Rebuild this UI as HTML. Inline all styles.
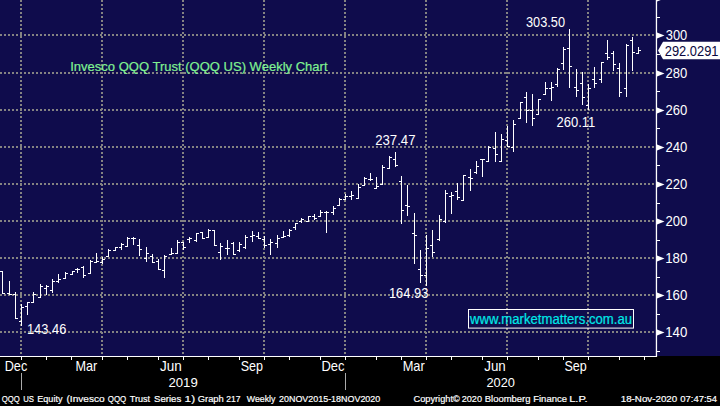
<!DOCTYPE html>
<html lang="en">
<head>
<meta charset="utf-8">
<title>Invesco QQQ Trust (QQQ US) Weekly Chart</title>
<style>
html,body{margin:0;padding:0;background:#000;overflow:hidden}
body{width:720px;height:406px;font-family:"Liberation Sans",sans-serif}
svg{display:block;position:absolute;left:0;top:0}
text{font-family:"Liberation Sans",sans-serif;fill:#fff}
.ax{font-size:14.1px}
.mo{font-size:14.2px}
.ft{font-size:9.8px;stroke:#fff;stroke-width:.2px}
.lb{font-size:14.05px}
.ti{font-size:13.3px;fill:#80f292;stroke:#80f292;stroke-width:.2px}
.wm{font-size:14px;fill:#00e8e8;stroke:#00e8e8;stroke-width:.2px}
.pv{font-size:14px;fill:#0a0840}
</style>
</head>
<body>
<svg width="720" height="406" viewBox="0 0 720 406">
<defs>
<pattern id="hd" x="0" y="0" width="4" height="2" patternUnits="userSpaceOnUse"><rect x="0" y="0" width="2" height="2" fill="#848382"/></pattern>
<pattern id="vd" x="0" y="0" width="2" height="4" patternUnits="userSpaceOnUse"><rect x="0" y="0" width="2" height="2" fill="#848382"/></pattern>
</defs>
<rect x="0" y="0" width="720" height="406" fill="#000"/>
<rect x="0" y="0" width="720" height="356" fill="#0f0c4c"/>
<g shape-rendering="crispEdges">
<rect x="0" y="34" width="656" height="2" fill="url(#hd)"/>
<rect x="0" y="72" width="656" height="2" fill="url(#hd)"/>
<rect x="0" y="109" width="656" height="2" fill="url(#hd)"/>
<rect x="0" y="146" width="656" height="2" fill="url(#hd)"/>
<rect x="0" y="183" width="656" height="2" fill="url(#hd)"/>
<rect x="0" y="220" width="656" height="2" fill="url(#hd)"/>
<rect x="0" y="257" width="656" height="2" fill="url(#hd)"/>
<rect x="0" y="294" width="656" height="2" fill="url(#hd)"/>
<rect x="0" y="331" width="656" height="2" fill="url(#hd)"/>
<rect x="20" y="0" width="2" height="356" fill="url(#vd)"/>
<rect x="101" y="0" width="2" height="356" fill="url(#vd)"/>
<rect x="182" y="0" width="2" height="356" fill="url(#vd)"/>
<rect x="263" y="0" width="2" height="356" fill="url(#vd)"/>
<rect x="344" y="0" width="2" height="356" fill="url(#vd)"/>
<rect x="425" y="0" width="2" height="356" fill="url(#vd)"/>
<rect x="506" y="0" width="2" height="356" fill="url(#vd)"/>
<rect x="587" y="0" width="2" height="356" fill="url(#vd)"/>
<path d="M2 271h1v23h-1zM0 271h2v1h-2zM3 293h2v1h-2zM9 281h1v14h-1zM7 293h2v1h-2zM10 294h2v1h-2zM15 292h1v27h-1zM13 294h2v1h-2zM16 318h2v1h-2zM21 304h1v22h-1zM19 321h2v1h-2zM22 307h2v1h-2zM27 302h1v13h-1zM25 306h2v1h-2zM28 302h2v1h-2zM33 292h1v11h-1zM31 302h2v1h-2zM34 294h2v1h-2zM40 284h1v14h-1zM38 297h2v1h-2zM41 286h2v1h-2zM46 285h1v10h-1zM44 288h2v1h-2zM47 286h2v1h-2zM52 279h1v14h-1zM50 290h2v1h-2zM53 281h2v1h-2zM58 274h1v9h-1zM56 281h2v1h-2zM59 279h2v1h-2zM65 272h1v7h-1zM63 278h2v1h-2zM66 273h2v1h-2zM72 271h1v4h-1zM70 274h2v1h-2zM73 271h2v1h-2zM77 268h1v5h-1zM75 269h2v1h-2zM78 269h2v1h-2zM83 266h1v12h-1zM81 267h2v1h-2zM84 275h2v1h-2zM90 260h1v14h-1zM88 273h2v1h-2zM91 261h2v1h-2zM96 253h1v10h-1zM94 262h2v1h-2zM97 261h2v1h-2zM102 257h1v7h-1zM100 262h2v1h-2zM103 259h2v1h-2zM108 249h1v8h-1zM106 256h2v1h-2zM109 250h2v1h-2zM115 247h1v4h-1zM113 250h2v1h-2zM116 247h2v1h-2zM121 243h1v7h-1zM119 247h2v1h-2zM122 244h2v1h-2zM127 237h1v10h-1zM125 246h2v1h-2zM128 238h2v1h-2zM133 237h1v8h-1zM131 238h2v1h-2zM134 238h2v1h-2zM139 239h1v17h-1zM137 245h2v1h-2zM140 249h2v1h-2zM146 247h1v15h-1zM144 258h2v1h-2zM147 253h2v1h-2zM152 254h1v9h-1zM150 256h2v1h-2zM153 262h2v1h-2zM158 259h1v11h-1zM156 261h2v1h-2zM159 269h2v1h-2zM164 255h1v23h-1zM162 270h2v1h-2zM165 256h2v1h-2zM171 248h1v7h-1zM169 254h2v1h-2zM172 253h2v1h-2zM177 240h1v14h-1zM175 253h2v1h-2zM178 242h2v1h-2zM183 242h1v8h-1zM181 242h2v1h-2zM184 247h2v1h-2zM189 237h1v6h-1zM187 239h2v1h-2zM190 238h2v1h-2zM196 233h1v9h-1zM194 240h2v1h-2zM197 233h2v1h-2zM202 232h1v7h-1zM200 232h2v1h-2zM203 238h2v1h-2zM208 229h1v9h-1zM206 237h2v1h-2zM209 230h2v1h-2zM214 230h1v16h-1zM212 230h2v1h-2zM215 245h2v1h-2zM220 243h1v17h-1zM218 252h2v1h-2zM221 246h2v1h-2zM227 240h1v15h-1zM225 248h2v1h-2zM228 248h2v1h-2zM233 242h1v13h-1zM231 243h2v1h-2zM234 254h2v1h-2zM239 242h1v10h-1zM237 250h2v1h-2zM240 244h2v1h-2zM245 235h1v14h-1zM243 247h2v1h-2zM246 237h2v1h-2zM252 231h1v11h-1zM250 236h2v1h-2zM253 235h2v1h-2zM258 232h1v7h-1zM256 236h2v1h-2zM259 238h2v1h-2zM264 236h1v12h-1zM262 239h2v1h-2zM265 245h2v1h-2zM270 239h1v16h-1zM268 244h2v1h-2zM271 242h2v1h-2zM277 235h1v13h-1zM275 243h2v1h-2zM278 238h2v1h-2zM283 231h1v7h-1zM281 237h2v1h-2zM284 236h2v1h-2zM289 229h1v8h-1zM287 235h2v1h-2zM290 230h2v1h-2zM295 223h1v7h-1zM293 227h2v1h-2zM296 223h2v1h-2zM301 218h1v5h-1zM299 221h2v1h-2zM302 219h2v1h-2zM308 216h1v6h-1zM306 221h2v1h-2zM309 216h2v1h-2zM314 214h1v6h-1zM312 216h2v1h-2zM315 218h2v1h-2zM320 210h1v7h-1zM318 216h2v1h-2zM321 212h2v1h-2zM326 211h1v22h-1zM324 212h2v1h-2zM327 212h2v1h-2zM333 206h1v9h-1zM331 212h2v1h-2zM334 208h2v1h-2zM339 198h1v8h-1zM337 205h2v1h-2zM340 199h2v1h-2zM345 194h1v6h-1zM343 199h2v1h-2zM346 196h2v1h-2zM351 191h1v9h-1zM349 196h2v1h-2zM352 195h2v1h-2zM358 184h1v15h-1zM356 198h2v1h-2zM359 187h2v1h-2zM364 177h1v9h-1zM362 185h2v1h-2zM365 178h2v1h-2zM370 173h1v8h-1zM368 179h2v1h-2zM371 179h2v1h-2zM376 177h1v12h-1zM374 188h2v1h-2zM377 186h2v1h-2zM382 165h1v20h-1zM380 184h2v1h-2zM383 167h2v1h-2zM389 156h1v13h-1zM387 168h2v1h-2zM390 157h2v1h-2zM395 152h1v15h-1zM393 159h2v1h-2zM396 165h2v1h-2zM401 176h1v48h-1zM399 181h2v1h-2zM402 210h2v1h-2zM407 185h1v31h-1zM405 205h2v1h-2zM408 206h2v1h-2zM414 213h1v51h-1zM412 233h2v1h-2zM415 235h2v1h-2zM420 250h1v33h-1zM418 269h2v1h-2zM421 275h2v1h-2zM426 235h1v51h-1zM424 275h2v1h-2zM427 248h2v1h-2zM432 230h1v27h-1zM430 245h2v1h-2zM433 252h2v1h-2zM439 215h1v26h-1zM437 239h2v1h-2zM440 219h2v1h-2zM445 190h1v33h-1zM443 221h2v1h-2zM446 193h2v1h-2zM451 192h1v22h-1zM449 196h2v1h-2zM452 195h2v1h-2zM457 183h1v17h-1zM455 191h2v1h-2zM458 197h2v1h-2zM463 175h1v26h-1zM461 200h2v1h-2zM464 175h2v1h-2zM470 169h1v22h-1zM468 177h2v1h-2zM471 178h2v1h-2zM476 161h1v13h-1zM474 172h2v1h-2zM477 166h2v1h-2zM482 159h1v18h-1zM480 159h2v1h-2zM483 159h2v1h-2zM488 146h1v16h-1zM486 161h2v1h-2zM489 147h2v1h-2zM495 132h1v30h-1zM493 148h2v1h-2zM496 154h2v1h-2zM501 134h1v28h-1zM499 161h2v1h-2zM502 139h2v1h-2zM507 126h1v21h-1zM505 140h2v1h-2zM508 146h2v1h-2zM513 120h1v32h-1zM511 147h2v1h-2zM514 124h2v1h-2zM520 102h1v17h-1zM518 118h2v1h-2zM521 102h2v1h-2zM526 92h1v31h-1zM524 97h2v1h-2zM527 110h2v1h-2zM532 94h1v32h-1zM530 110h2v1h-2zM533 118h2v1h-2zM538 99h1v16h-1zM536 114h2v1h-2zM539 99h2v1h-2zM545 82h1v13h-1zM543 94h2v1h-2zM546 88h2v1h-2zM551 82h1v19h-1zM549 88h2v1h-2zM552 87h2v1h-2zM557 68h1v19h-1zM555 84h2v1h-2zM558 69h2v1h-2zM563 47h1v23h-1zM561 63h2v1h-2zM564 49h2v1h-2zM569 29h1v59h-1zM567 48h2v1h-2zM570 66h2v1h-2zM576 69h1v28h-1zM574 87h2v1h-2zM577 90h2v1h-2zM582 72h1v33h-1zM580 83h2v1h-2zM583 97h2v1h-2zM588 84h1v26h-1zM586 105h2v1h-2zM589 88h2v1h-2zM594 67h1v21h-1zM592 79h2v1h-2zM595 83h2v1h-2zM601 62h1v21h-1zM599 79h2v1h-2zM602 62h2v1h-2zM607 40h1v20h-1zM605 53h2v1h-2zM608 57h2v1h-2zM613 51h1v20h-1zM611 53h2v1h-2zM614 64h2v1h-2zM619 63h1v34h-1zM617 68h2v1h-2zM620 92h2v1h-2zM626 44h1v53h-1zM624 88h2v1h-2zM627 45h2v1h-2zM632 37h1v34h-1zM630 40h2v1h-2zM633 52h2v1h-2zM638 47h1v7h-1zM636 53h2v1h-2zM639 50h2v1h-2z" fill="#fff"/>
<rect x="0" y="356" width="657" height="1" fill="#fff"/>

<path d="M21 357h1v3h-1zM46 357h1v3h-1zM71 357h1v3h-1zM102 357h1v3h-1zM127 357h1v3h-1zM158 357h1v3h-1zM183 357h1v3h-1zM208 357h1v3h-1zM239 357h1v3h-1zM264 357h1v3h-1zM289 357h1v3h-1zM320 357h1v3h-1zM345 357h1v3h-1zM376 357h1v3h-1zM401 357h1v3h-1zM426 357h1v3h-1zM451 357h1v3h-1zM482 357h1v3h-1zM507 357h1v3h-1zM538 357h1v3h-1zM563 357h1v3h-1zM588 357h1v3h-1zM619 357h1v3h-1zM644 357h1v3h-1z" fill="#fff"/>
<rect x="21" y="373" width="1" height="17" fill="#aaa"/>
<rect x="345" y="373" width="1" height="17" fill="#aaa"/>
</g>
<rect x="655.8" y="0" width="1.3" height="357" fill="#fff"/>
<path d="M657 -4.5L664.5 -1.5L657 1.5z" fill="#fff"/>
<path d="M657 32.5L664.5 35.5L657 38.5z" fill="#fff"/>
<path d="M657 70.5L664.5 73.5L657 76.5z" fill="#fff"/>
<path d="M657 107.5L664.5 110.5L657 113.5z" fill="#fff"/>
<path d="M657 144.5L664.5 147.5L657 150.5z" fill="#fff"/>
<path d="M657 181.5L664.5 184.5L657 187.5z" fill="#fff"/>
<path d="M657 218.5L664.5 221.5L657 224.5z" fill="#fff"/>
<path d="M657 255.5L664.5 258.5L657 261.5z" fill="#fff"/>
<path d="M657 292.5L664.5 295.5L657 298.5z" fill="#fff"/>
<path d="M657 329.5L664.5 332.5L657 335.5z" fill="#fff"/>
<rect x="657" y="17" width="3" height="1" fill="#fff"/>
<rect x="657" y="54" width="3" height="1" fill="#fff"/>
<rect x="657" y="91" width="3" height="1" fill="#fff"/>
<rect x="657" y="128" width="3" height="1" fill="#fff"/>
<rect x="657" y="165" width="3" height="1" fill="#fff"/>
<rect x="657" y="203" width="3" height="1" fill="#fff"/>
<rect x="657" y="240" width="3" height="1" fill="#fff"/>
<rect x="657" y="277" width="3" height="1" fill="#fff"/>
<rect x="657" y="314" width="3" height="1" fill="#fff"/>
<rect x="657" y="351" width="3" height="1" fill="#fff"/>
<path d="M658 50.5L663 41.7H720V59.2H663z" fill="#fff"/>
<rect x="468.5" y="309.5" width="165" height="18.6" fill="none" stroke="#fff" stroke-width="1"/>
<text id="m0" x="4.69" y="370.60" textLength="22.56" lengthAdjust="spacingAndGlyphs" class="mo">Dec</text>
<text id="m1" x="75.43" y="370.60" textLength="21.82" lengthAdjust="spacingAndGlyphs" class="mo">Mar</text>
<text id="m2" x="159.99" y="370.60" textLength="21.79" lengthAdjust="spacingAndGlyphs" class="mo">Jun</text>
<text id="m3" x="240.72" y="370.85" textLength="22.29" lengthAdjust="spacingAndGlyphs" class="mo">Sep</text>
<text id="m4" x="321.43" y="370.60" textLength="23.08" lengthAdjust="spacingAndGlyphs" class="mo">Dec</text>
<text id="m5" x="402.69" y="370.60" textLength="22.08" lengthAdjust="spacingAndGlyphs" class="mo">Mar</text>
<text id="m6" x="484.24" y="370.60" textLength="21.55" lengthAdjust="spacingAndGlyphs" class="mo">Jun</text>
<text id="m7" x="564.48" y="370.85" textLength="22.30" lengthAdjust="spacingAndGlyphs" class="mo">Sep</text>
<text id="y0" x="168.48" y="386.50" textLength="29.31" lengthAdjust="spacingAndGlyphs" class="mo" style="font-size:13.60px">2019</text>
<text id="y1" x="486.48" y="386.50" textLength="28.52" lengthAdjust="spacingAndGlyphs" class="mo" style="font-size:13.60px">2020</text>
<text id="f0" x="1.74" y="401.75" textLength="18.01" lengthAdjust="spacingAndGlyphs" class="ft">QQQ</text>
<text id="f1" x="23.21" y="401.75" textLength="10.81" lengthAdjust="spacingAndGlyphs" class="ft">US</text>
<text id="f2" x="37.23" y="402.25" textLength="25.27" lengthAdjust="spacingAndGlyphs" class="ft">Equity</text>
<text id="f3" x="66.49" y="402.25" textLength="38.27" lengthAdjust="spacingAndGlyphs" class="ft">(Invesco</text>
<text id="f4" x="107.74" y="401.75" textLength="18.51" lengthAdjust="spacingAndGlyphs" class="ft">QQQ</text>
<text id="f5" x="129.75" y="401.75" textLength="20.25" lengthAdjust="spacingAndGlyphs" class="ft">Trust</text>
<text id="f6" x="153.99" y="402.25" textLength="27.26" lengthAdjust="spacingAndGlyphs" class="ft">Series</text>
<text id="f7" x="184.61" y="402.25" textLength="10.50" lengthAdjust="spacingAndGlyphs" class="ft">1)</text>
<text id="f8" x="197.74" y="402.25" textLength="26.02" lengthAdjust="spacingAndGlyphs" class="ft">Graph</text>
<text id="f9" x="226.23" y="401.75" textLength="14.29" lengthAdjust="spacingAndGlyphs" class="ft">217</text>
<text id="f10" x="246.75" y="402.25" textLength="28.75" lengthAdjust="spacingAndGlyphs" class="ft">Weekly</text>
<text id="f11" x="279.00" y="401.75" textLength="101.25" lengthAdjust="spacingAndGlyphs" class="ft">20NOV2015-18NOV2020</text>
<text id="f12" x="413.49" y="402.25" textLength="46.26" lengthAdjust="spacingAndGlyphs" class="ft">Copyright©</text>
<text id="f13" x="461.74" y="401.75" textLength="20.26" lengthAdjust="spacingAndGlyphs" class="ft">2020</text>
<text id="f14" x="484.73" y="402.25" textLength="45.79" lengthAdjust="spacingAndGlyphs" class="ft">Bloomberg</text>
<text id="f15" x="533.23" y="402.25" textLength="33.77" lengthAdjust="spacingAndGlyphs" class="ft">Finance</text>
<text id="f16" x="569.16" y="401.75" textLength="18.41" lengthAdjust="spacingAndGlyphs" class="ft">L.P.</text>
<text id="f17" x="620.74" y="401.75" textLength="56.51" lengthAdjust="spacingAndGlyphs" class="ft">18-Nov-2020</text>
<text id="f18" x="680.25" y="401.75" textLength="36.76" lengthAdjust="spacingAndGlyphs" class="ft">07:47:54</text>
<text id="l0" x="525.99" y="26.75" textLength="39.02" lengthAdjust="spacingAndGlyphs" class="lb">303.50</text>
<text id="l1" x="375.23" y="144.65" textLength="40.29" lengthAdjust="spacingAndGlyphs" class="lb">237.47</text>
<text id="l2" x="556.48" y="126.65" textLength="38.79" lengthAdjust="spacingAndGlyphs" class="lb">260.11</text>
<text id="l3" x="388.97" y="297.60" textLength="39.31" lengthAdjust="spacingAndGlyphs" class="lb">164.93</text>
<text id="l4" x="26.97" y="333.60" textLength="39.31" lengthAdjust="spacingAndGlyphs" class="lb">143.46</text>
<text id="a300" x="665.73" y="40.40" textLength="21.55" lengthAdjust="spacingAndGlyphs" class="ax">300</text>
<text id="a280" x="665.46" y="78.40" textLength="21.82" lengthAdjust="spacingAndGlyphs" class="ax">280</text>
<text id="a260" x="665.46" y="115.40" textLength="21.82" lengthAdjust="spacingAndGlyphs" class="ax">260</text>
<text id="a240" x="665.46" y="152.40" textLength="21.82" lengthAdjust="spacingAndGlyphs" class="ax">240</text>
<text id="a220" x="665.46" y="189.40" textLength="21.82" lengthAdjust="spacingAndGlyphs" class="ax">220</text>
<text id="a200" x="665.46" y="226.40" textLength="21.82" lengthAdjust="spacingAndGlyphs" class="ax">200</text>
<text id="a180" x="665.17" y="263.40" textLength="22.09" lengthAdjust="spacingAndGlyphs" class="ax">180</text>
<text id="a160" x="665.17" y="300.40" textLength="22.09" lengthAdjust="spacingAndGlyphs" class="ax">160</text>
<text id="a140" x="665.17" y="337.40" textLength="22.09" lengthAdjust="spacingAndGlyphs" class="ax">140</text>
<text id="pv" x="664.73" y="55.75" textLength="53.78" lengthAdjust="spacingAndGlyphs" class="pv">292.0291</text>
<text id="ti" x="70.24" y="70.95" textLength="257.26" lengthAdjust="spacingAndGlyphs" class="ti">Invesco QQQ Trust (QQQ US) Weekly Chart</text>
<text id="wm" x="470.00" y="324.25" textLength="162.01" lengthAdjust="spacingAndGlyphs" class="wm">www.marketmatters.com.au</text>
</svg>
</body>
</html>
